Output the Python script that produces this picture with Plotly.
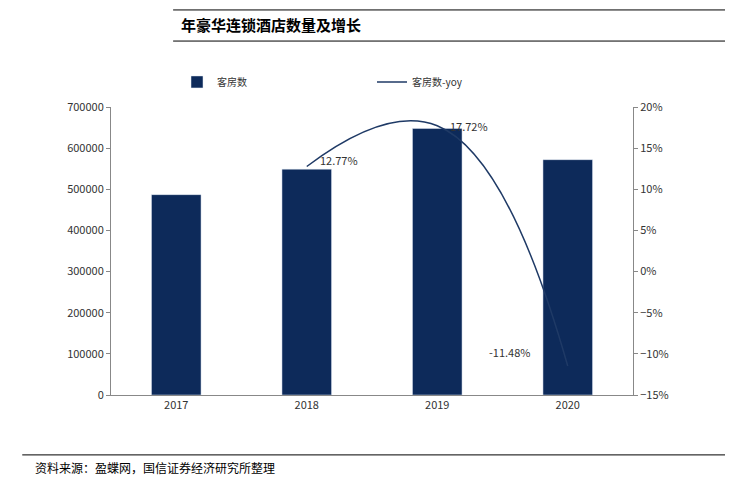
import plotly.graph_objects as go

years = ["2017", "2018", "2019", "2020"]
rooms = [487000, 549000, 648000, 572000]
yoy_years = ["2018", "2019", "2020"]
yoy = [12.77, 17.72, -11.48]
yoy_labels = ["12.77%", "17.72%", "-11.48%"]

fig = go.Figure()
fig.add_trace(go.Bar(x=years, y=rooms, name="客房数", marker_color="#0d2a5a", width=0.38))
fig.add_trace(go.Scatter(x=yoy_years, y=yoy, name="客房数-yoy", yaxis="y2", mode="lines",
                         line=dict(color="#1f3a66", width=1.5, shape="spline", smoothing=1.3)))

# data labels for the yoy line (category index positions)
offsets = [(32, 6), (32, 0), (-58, 14)]
for xv, yv, lab, (dx, dy) in zip(yoy_years, yoy, yoy_labels, offsets):
    fig.add_annotation(x=years.index(xv), y=yv, xref="x", yref="y2", text=lab, showarrow=False,
                       xshift=dx, yshift=dy, font=dict(size=11, color="#333"))

fig.update_layout(
    width=733, height=477, plot_bgcolor="white", paper_bgcolor="white",
    margin=dict(l=103, r=108, t=99, b=90),
    font=dict(family="Noto Sans CJK SC, Arial", size=11, color="#333"),
    showlegend=True, bargap=0.6,
    legend=dict(orientation="h", x=0.5, xanchor="center", y=1.087, yanchor="middle",
                font=dict(size=10), entrywidth=150, bgcolor="rgba(0,0,0,0)"),
    xaxis=dict(type="category", showline=True, linecolor="#888", ticks="", tickfont=dict(size=11)),
    yaxis=dict(range=[0, 700000], dtick=100000, showgrid=False, showline=True, linecolor="#888",
               ticks="outside", ticklen=4, tickcolor="#888", tickformat="d"),
    yaxis2=dict(overlaying="y", side="right", range=[-15, 20], dtick=5, showgrid=False,
                showline=True, linecolor="#888", ticks="outside", ticklen=4, tickcolor="#888",
                ticksuffix="%", zeroline=False),
)
shapes = [
    dict(type="line", xref="paper", yref="paper", x0=0.119, x1=1.19, y0=1.337, y1=1.337, line=dict(color="black", width=1)),
    dict(type="line", xref="paper", yref="paper", x0=0.119, x1=1.19, y0=1.229, y1=1.229, line=dict(color="black", width=1)),
    dict(type="line", xref="paper", yref="paper", x0=-0.17, x1=1.19, y0=-0.208, y1=-0.208, line=dict(color="black", width=1)),
]
fig.update_layout(shapes=shapes)
fig.add_annotation(text="<b>年豪华连锁酒店数量及增长</b>", xref="paper", yref="paper", x=0.13, y=1.285,
                   xanchor="left", yanchor="middle", showarrow=False, font=dict(size=15, color="black"))
fig.add_annotation(text="资料来源：盈蝶网，国信证券经济研究所整理", xref="paper", yref="paper", x=-0.15, y=-0.25,
                   xanchor="left", yanchor="middle", showarrow=False, font=dict(size=12, color="black"))
fig.write_html("out.html")
